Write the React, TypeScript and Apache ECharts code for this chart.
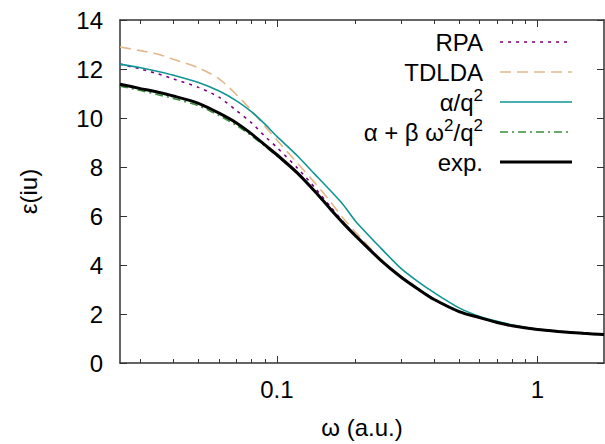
import React, { useEffect, useRef } from 'react';
import * as echarts from 'echarts';

const omega = [0.025, 0.03, 0.035, 0.04, 0.05, 0.06, 0.07, 0.08, 0.09, 0.1, 0.12, 0.14, 0.16, 0.18, 0.2, 0.25, 0.3, 0.35, 0.4, 0.5, 0.6, 0.7, 0.8, 1.0, 1.2, 1.5, 1.8];
const rpa = [12.2, 12.0, 11.8, 11.6, 11.25, 10.85, 10.3, 9.8, 9.25, 8.8, 7.95, 7.15, 6.4, 5.75, 5.22, 4.2, 3.5, 3.0, 2.6, 2.1, 1.85, 1.65, 1.52, 1.37, 1.29, 1.21, 1.16];
const tdlda = [12.9, 12.75, 12.6, 12.4, 12.05, 11.6, 10.95, 10.3, 9.65, 9.1, 8.15, 7.35, 6.6, 5.9, 5.35, 4.25, 3.52, 3.0, 2.6, 2.1, 1.85, 1.65, 1.52, 1.37, 1.29, 1.21, 1.16];
const alphaQ2 = [12.2, 12.05, 11.9, 11.75, 11.45, 11.1, 10.7, 10.25, 9.75, 9.25, 8.45, 7.7, 7.05, 6.45, 5.8, 4.7, 3.85, 3.3, 2.88, 2.25, 1.9, 1.7, 1.55, 1.38, 1.29, 1.21, 1.16];
const alphaBeta = [11.3, 11.12, 10.95, 10.8, 10.5, 10.1, 9.7, 9.27, 8.85, 8.45, 7.72, 7.0, 6.32, 5.72, 5.22, 4.22, 3.52, 3.02, 2.62, 2.12, 1.85, 1.66, 1.52, 1.36, 1.28, 1.2, 1.14];
const expData = [11.38, 11.2, 11.05, 10.9, 10.6, 10.2, 9.8, 9.35, 8.9, 8.5, 7.75, 7.0, 6.3, 5.7, 5.2, 4.2, 3.5, 3.0, 2.6, 2.1, 1.85, 1.65, 1.52, 1.37, 1.29, 1.21, 1.16];

const xMajorTicks = [0.1, 1];
const xMinorTicks = [0.03, 0.04, 0.05, 0.06, 0.07, 0.08, 0.09, 0.2, 0.3, 0.4, 0.5, 0.6, 0.7, 0.8, 0.9];
const xMin = 0.025;
const xMax = 1.8;
const yMin = 0;
const yMax = 14;
const yStep = 2;

const seriesNames = ['RPA', 'TDLDA', 'α/q²', 'α + β ω²/q²', 'exp.'];
const legendRich = ['{n|RPA}', '{n|TDLDA}', '{n|α/q}{s|2}', '{n|α + β ω}{s|2}{n|/q}{s|2}', '{n|exp.}'];
const seriesValues = [rpa, tdlda, alphaQ2, alphaBeta, expData];
const colors = ['#800080', '#e2b88a', '#119494', '#3a8f3a', '#000000'];
const widths = [1.6, 1.6, 1.6, 1.6, 3];
const dashes: any[] = [[3, 5], [11, 6], 'solid', [8, 4, 2, 4], 'solid'];

const FONT = '"Liberation Sans", Arial, Helvetica, sans-serif';
const AX = '#333333';

export default function App() {
  const ref = useRef<HTMLDivElement>(null);
  useEffect(() => {
    if (!ref.current) return;
    const chart = echarts.init(ref.current, undefined, { renderer: 'svg' });
    const logAxis = (position: string, ticks: number[], len: number, showLine: boolean, labels: boolean, extra: any = {}) => ({
      type: 'log',
      logBase: 10,
      min: xMin,
      max: xMax,
      position,
      gridIndex: 0,
      axisLine: { show: showLine, onZero: false, lineStyle: { color: AX, width: 1.5 } },
      axisTick: { show: true, inside: true, length: len, customValues: ticks, lineStyle: { color: AX, width: 1 } },
      axisLabel: labels
        ? { show: true, customValues: xMajorTicks, formatter: (v: number) => String(v), fontSize: 24, color: '#000', fontFamily: FONT, margin: 14 }
        : { show: false },
      splitLine: { show: false },
      minorSplitLine: { show: false },
      ...extra,
    });
    const legendGraphics: any[] = [];
    legendRich.forEach((lab, i) => {
      const y = 42 + 30 * i;
      legendGraphics.push({
        type: 'text',
        x: 483,
        y,
        style: {
          text: lab,
          fontSize: 24,
          fontFamily: FONT,
          fill: '#000',
          align: 'right',
          verticalAlign: 'middle',
          rich: {
            n: { fontSize: 24, fontFamily: FONT, fill: '#000', lineHeight: 30 },
            s: { fontSize: 17, fontFamily: FONT, fill: '#000', lineHeight: 17, verticalAlign: 'top' },
          },
        },
      });
      legendGraphics.push({
        type: 'line',
        shape: { x1: 500, y1: y, x2: 572, y2: y },
        style: { stroke: colors[i], lineWidth: widths[i], lineDash: dashes[i] === 'solid' ? null : dashes[i] },
      });
    });
    chart.setOption({
      animation: false,
      backgroundColor: '#fff',
      grid: { left: 120, right: 1, top: 20, bottom: 80, containLabel: false },
      xAxis: [
        logAxis('bottom', xMajorTicks, 7, true, true, {
          name: 'ω (a.u.)',
          nameLocation: 'middle',
          nameGap: 52,
          nameTextStyle: { fontSize: 24, fontFamily: FONT, color: '#000' },
        }),
        logAxis('bottom', xMinorTicks, 4, false, false),
        logAxis('top', xMajorTicks, 7, true, false),
        logAxis('top', xMinorTicks, 4, false, false),
      ],
      yAxis: [
        {
          type: 'value',
          min: yMin,
          max: yMax,
          interval: yStep,
          position: 'left',
          axisLine: { show: true, onZero: false, lineStyle: { color: AX, width: 1.5 } },
          axisTick: { show: true, inside: true, length: 7, lineStyle: { color: AX } },
          axisLabel: { fontSize: 24, color: '#000', fontFamily: FONT, margin: 17 },
          splitLine: { show: false },
          name: 'ε(iu)',
          nameLocation: 'middle',
          nameRotate: 90,
          nameGap: 80,
          nameTextStyle: { fontSize: 24, fontFamily: FONT, color: '#000' },
        },
        {
          type: 'value',
          min: yMin,
          max: yMax,
          interval: yStep,
          position: 'right',
          axisLine: { show: true, onZero: false, lineStyle: { color: AX, width: 1.5 } },
          axisTick: { show: true, inside: true, length: 7, lineStyle: { color: AX } },
          axisLabel: { show: false },
          splitLine: { show: false },
        },
      ],
      series: seriesNames.map((lab, i) => ({
        name: lab,
        type: 'line',
        xAxisIndex: 0,
        yAxisIndex: 0,
        data: omega.map((w, k) => [w, seriesValues[i][k]]),
        showSymbol: false,
        symbol: 'none',
        smooth: 0.25,
        lineStyle: { color: colors[i], width: widths[i], type: dashes[i] },
        z: 2 + i,
      })),
      graphic: legendGraphics,
    });
    return () => chart.dispose();
  }, []);
  return <div ref={ref} style={{ width: 605, height: 444, position: 'absolute', left: 0, top: 0 }} />;
}
